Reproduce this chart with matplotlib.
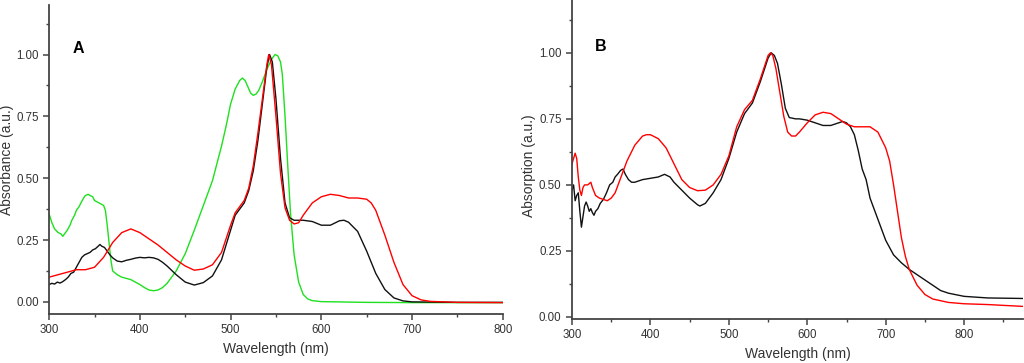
import matplotlib
matplotlib.use("Agg")
import matplotlib.pyplot as plt
from matplotlib.ticker import MultipleLocator

plt.rcParams["font.family"] = ["Liberation Sans", "DejaVu Sans"]

# ---- Panel A data (wavelength nm, normalised absorbance) ----
a_green_wl = [300, 303, 306, 310, 313, 315, 318, 320, 323, 325, 328, 330, 333, 335, 338,
              340, 343, 345, 348, 350, 355, 360, 362, 364, 366, 368, 370, 375, 380,
              385, 390, 395, 400, 405, 410, 415, 420, 425, 430, 440, 450, 460, 470,
              480, 490, 495, 500, 505, 510, 513, 516, 519, 522, 525, 528, 531, 535,
              540, 545, 549, 552, 555, 557, 560, 563, 566, 570, 575, 580, 585, 590,
              600, 650, 700, 750, 800]
a_green = [0.355, 0.32, 0.295, 0.28, 0.275, 0.265, 0.28, 0.29, 0.31, 0.33, 0.35, 0.37,
           0.385, 0.40, 0.42, 0.43, 0.435, 0.43, 0.425, 0.41, 0.40, 0.39, 0.37, 0.31,
           0.24, 0.17, 0.125, 0.11, 0.10, 0.095, 0.09, 0.08, 0.07, 0.058, 0.048, 0.045,
           0.048, 0.058, 0.075, 0.125, 0.195, 0.29, 0.39, 0.49, 0.63, 0.71, 0.80, 0.86,
           0.895, 0.905, 0.895, 0.87, 0.845, 0.835, 0.84, 0.855, 0.89, 0.94, 0.98, 1.00,
           0.995, 0.97, 0.92, 0.75, 0.55, 0.36, 0.19, 0.08, 0.03, 0.012, 0.005, 0.001,
           -0.002, -0.003, -0.003, -0.003]

a_black_wl = [300, 303, 306, 309, 312, 315, 318, 321, 324, 327, 330, 333, 336, 339, 342,
              345, 348, 351, 354, 356, 358, 361, 364, 367, 370, 375, 380, 385, 390,
              395, 400, 405, 410, 415, 420, 425, 430, 440, 450, 460, 470, 480, 490,
              500, 505, 510, 515, 520, 525, 530, 535, 540, 543, 546, 550, 555, 560,
              565, 570, 580, 590, 600, 610, 620, 625, 630, 640, 650, 660, 670, 680,
              690, 700, 750, 800]
a_black = [0.07, 0.075, 0.072, 0.08, 0.076, 0.082, 0.09, 0.10, 0.115, 0.12, 0.14, 0.16,
           0.18, 0.19, 0.195, 0.20, 0.21, 0.215, 0.225, 0.232, 0.225, 0.22, 0.205, 0.19,
           0.178, 0.165, 0.162, 0.168, 0.172, 0.177, 0.18, 0.178, 0.18, 0.178, 0.172,
           0.16, 0.145, 0.11, 0.08, 0.068, 0.078, 0.105, 0.17, 0.29, 0.35, 0.375, 0.40,
           0.45, 0.53, 0.65, 0.80, 0.95, 1.00, 0.97, 0.82, 0.58, 0.40, 0.34, 0.33,
           0.33, 0.325, 0.31, 0.31, 0.328, 0.33, 0.322, 0.285, 0.205, 0.115, 0.05,
           0.016, 0.004, 0.0, -0.002, -0.002]

a_red_wl = [300, 310, 320, 330, 340, 350, 360, 370, 380, 390, 400, 410, 420, 430, 440,
            450, 460, 470, 480, 490, 500, 505, 510, 515, 520, 525, 530, 535, 540, 542,
            545, 550, 555, 560, 565, 570, 575, 580, 590, 600, 610, 620, 630, 640, 650,
            655, 660, 670, 680, 690, 700, 710, 720, 750, 800]
a_red = [0.10, 0.11, 0.12, 0.13, 0.13, 0.14, 0.18, 0.24, 0.28, 0.295, 0.28, 0.255, 0.23,
         0.20, 0.17, 0.145, 0.128, 0.133, 0.15, 0.20, 0.31, 0.36, 0.385, 0.41, 0.46,
         0.55, 0.68, 0.82, 0.96, 1.00, 0.96, 0.75, 0.52, 0.38, 0.33, 0.315, 0.32, 0.35,
         0.40, 0.425, 0.435, 0.43, 0.42, 0.42, 0.415, 0.40, 0.37, 0.27, 0.16, 0.07,
         0.025, 0.008, 0.002, -0.002, -0.003]

# ---- Panel B data ----
b_red_wl = [300, 302, 304, 306, 308, 310, 312, 314, 316, 320, 322, 324, 326, 330, 335,
            340, 345, 350, 355, 360, 365, 370, 380, 390, 395, 400, 410, 420, 430, 440,
            450, 460, 470, 480, 490, 500, 510, 520, 530, 540, 550, 553, 556, 560, 565,
            570, 575, 580, 585, 590, 600, 610, 620, 630, 640, 650, 660, 670, 680, 690,
            700, 705, 710, 715, 720, 725, 730, 740, 750, 760, 780, 800, 830, 875]
b_red = [0.58, 0.60, 0.62, 0.60, 0.53, 0.48, 0.46, 0.49, 0.50, 0.50, 0.505, 0.51, 0.49,
         0.46, 0.45, 0.445, 0.44, 0.45, 0.47, 0.51, 0.55, 0.59, 0.65, 0.685, 0.69,
         0.69, 0.675, 0.64, 0.58, 0.52, 0.49, 0.478, 0.48, 0.50, 0.54, 0.61, 0.72,
         0.785, 0.82, 0.90, 0.99, 1.00, 0.99, 0.94, 0.85, 0.76, 0.70, 0.685, 0.685,
         0.70, 0.735, 0.765, 0.775, 0.77, 0.75, 0.73, 0.72, 0.72, 0.72, 0.70, 0.64,
         0.59, 0.50, 0.40, 0.30, 0.23, 0.18, 0.12, 0.085, 0.068, 0.055, 0.05, 0.047,
         0.04]

b_black_wl = [300, 302, 304, 306, 308, 310, 312, 314, 316, 318, 320, 322, 324, 326, 328,
              330, 333, 336, 340, 344, 348, 352, 355, 358, 362, 365, 368, 372, 376, 380,
              390, 400, 410, 418, 425, 430, 440, 450, 460, 463, 470, 480, 490, 500, 510,
              520, 530, 540, 550, 554, 558, 562, 567, 572, 577, 585, 590, 600, 610, 620,
              630, 640, 645, 650, 655, 660, 665, 670, 675, 680, 690, 700, 710, 720, 730,
              740, 750, 760, 770, 780, 800, 830, 875]
b_black = [0.48, 0.50, 0.44, 0.46, 0.47, 0.40, 0.34, 0.38, 0.42, 0.435, 0.42, 0.40, 0.41,
           0.395, 0.385, 0.40, 0.41, 0.43, 0.445, 0.47, 0.50, 0.51, 0.53, 0.54, 0.555,
           0.56, 0.54, 0.52, 0.51, 0.51, 0.52, 0.525, 0.53, 0.54, 0.53, 0.51, 0.48,
           0.45, 0.425, 0.42, 0.43, 0.47, 0.52, 0.60, 0.70, 0.77, 0.81, 0.89, 0.98,
           1.00, 0.99, 0.96, 0.88, 0.79, 0.755, 0.75, 0.75, 0.745, 0.735, 0.725, 0.725,
           0.735, 0.74, 0.735, 0.72, 0.69, 0.63, 0.56, 0.52, 0.45, 0.37, 0.29, 0.235,
           0.205, 0.18, 0.16, 0.14, 0.12, 0.10, 0.09, 0.078, 0.072, 0.07]

RED = "#ff0000"
GREEN = "#1ee01e"
BLACK = "#111111"
AXC = "#444444"
TXC = "#333333"


def style(ax, xlim, ylim, xmajor, ylabel, tag, tag_xy):
    ax.set_xlim(*xlim)
    ax.set_ylim(*ylim)
    ax.spines["top"].set_visible(False)
    ax.spines["right"].set_visible(False)
    for s in ("left", "bottom"):
        ax.spines[s].set_color(AXC)
        ax.spines[s].set_linewidth(1.3)
    ax.xaxis.set_major_locator(MultipleLocator(xmajor))
    ax.xaxis.set_minor_locator(MultipleLocator(xmajor / 2))
    ax.set_yticks([0, 0.25, 0.5, 0.75, 1.0])
    ax.set_yticklabels(["0.00", "0.25", "0.50", "0.75", "1.00"])
    ax.yaxis.set_minor_locator(MultipleLocator(0.125))
    ax.tick_params(which="major", direction="out", length=4.5, width=1.1,
                   color=AXC, labelsize=8.3, labelcolor=TXC, pad=3)
    ax.tick_params(which="minor", direction="out", length=2.5, width=1.0, color=AXC)
    ax.set_xlabel("Wavelength (nm)", fontsize=10, color=TXC, labelpad=4)
    ax.set_ylabel(ylabel, fontsize=10, color=TXC)
    ax.text(tag_xy[0], tag_xy[1], tag, transform=ax.transAxes, fontsize=11.5,
            fontweight="bold", color="black", ha="center", va="center")


fig = plt.figure(figsize=(10.24, 3.63), dpi=100)

axA = fig.add_axes([0.048, 0.135, 0.443, 0.851])
axA.plot(a_green_wl, a_green, color=GREEN, lw=1.0)
axA.plot(a_black_wl, a_black, color=BLACK, lw=1.0)
axA.plot(a_red_wl, a_red, color=RED, lw=1.0)
style(axA, (300, 800), (-0.049, 1.2), 100, "Absorbance (a.u.)", "A", (0.065, 0.86))
axA.yaxis.set_label_coords(-0.077, 0.50)

axB = fig.add_axes([0.5586, 0.121, 0.4404, 0.879])
axB.plot(b_black_wl, b_black, color=BLACK, lw=1.0)
axB.plot(b_red_wl, b_red, color=RED, lw=1.0)
style(axB, (300, 875), (-0.008, 1.2), 100, "Absorption (a.u.)", "B", (0.064, 0.853))
axB.yaxis.set_label_coords(-0.080, 0.48)

fig.savefig("out.png", dpi=100)
